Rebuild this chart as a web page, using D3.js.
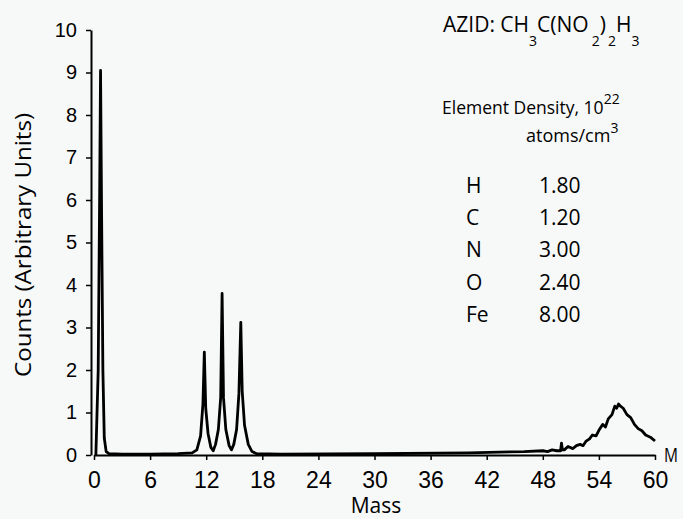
<!DOCTYPE html>
<html>
<head>
<meta charset="utf-8">
<script src="https://cdn.jsdelivr.net/npm/d3@7"></script>
<style>
  body { margin: 0; background: #f7f8f8; }
  svg { display: block; font-family: "Open Sans", "DejaVu Sans", sans-serif; }
</style>
</head>
<body>
<div id="chart"></div>
<script>
// spectrum (mass, counts)
const mass = [0.2, 0.45, 0.6, 0.7, 0.8, 0.95, 1.1, 1.3, 1.6, 3, 6, 9, 10.5,
  11.0, 11.4, 11.65, 11.8, 11.95, 12.2, 12.5, 12.75,
  13.0, 13.3, 13.55, 13.7, 13.85, 14.1, 14.45, 14.7,
  14.95, 15.25, 15.5, 15.7, 15.85, 16.1, 16.5, 16.9, 17.4,
  20, 30, 40, 46, 48, 48.5, 49, 49.5, 49.9, 50, 50.1, 50.3, 50.7, 51.2, 51.6, 52, 52.3, 52.6,
  53, 53.3, 53.7, 54, 54.4, 54.7, 55, 55.4, 55.7, 55.9, 56.1, 56.3, 56.6, 57, 57.4, 57.8,
  58.2, 58.6, 59, 59.5, 60];
const counts = [0.0, 2.0, 6.0, 9.05, 6.0, 2.0, 0.4, 0.08, 0.03, 0.02, 0.02, 0.03, 0.05,
  0.12, 0.45, 1.2, 2.42, 1.1, 0.5, 0.18, 0.1,
  0.25, 0.6, 1.35, 3.8, 1.35, 0.6, 0.22, 0.12,
  0.25, 0.6, 1.45, 3.12, 1.5, 0.7, 0.25, 0.08, 0.03,
  0.02, 0.03, 0.05, 0.08, 0.1, 0.08, 0.12, 0.1, 0.1, 0.28, 0.12, 0.12, 0.2, 0.15, 0.22, 0.25, 0.22, 0.32,
  0.38, 0.47, 0.45, 0.58, 0.72, 0.66, 0.85, 0.95, 1.15, 1.1, 1.2, 1.15, 1.1, 0.95, 0.88, 0.72,
  0.62, 0.57, 0.47, 0.42, 0.33];

const xTicks = [0, 6, 12, 18, 24, 30, 36, 42, 48, 54, 60];
const yTicks = [0, 1, 2, 3, 4, 5, 6, 7, 8, 9, 10];

const elements = ["H", "C", "N", "O", "Fe"];
const densities = ["1.80", "1.20", "3.00", "2.40", "8.00"];

const width = 683, height = 519;

const svg = d3.select("#chart").append("svg")
  .attr("width", width)
  .attr("height", height);

const x = d3.scaleLinear().domain([0, 60]).range([94, 655]);
const y = d3.scaleLinear().domain([0, 10]).range([455, 30]);

// axes
const xAxis = svg.append("g")
  .attr("transform", `translate(0,${y(0)})`)
  .call(d3.axisBottom(x).tickValues(xTicks).tickSize(5).tickSizeOuter(0).tickPadding(12));
xAxis.select(".domain").attr("stroke", "#000").attr("stroke-width", 2);
xAxis.selectAll(".tick line").attr("stroke-width", 1.5);
xAxis.selectAll("text")
  .attr("font-size", 23)
  .attr("fill", "#000");

const yAxis = svg.append("g")
  .attr("transform", `translate(${x(0) - 3},0)`)
  .call(d3.axisLeft(y).tickValues(yTicks).tickSize(5).tickSizeOuter(0).tickPadding(9));
yAxis.select(".domain").attr("stroke", "#000").attr("stroke-width", 2);
yAxis.selectAll(".tick line").attr("stroke-width", 1.5);
yAxis.selectAll("text")
  .attr("font-size", 20)
  .attr("fill", "#000");

// axis titles
svg.append("text")
  .attr("x", 376).attr("y", 513)
  .attr("text-anchor", "middle")
  .attr("font-size", 21)
  .text("Mass");

svg.append("text")
  .attr("x", 664).attr("y", 462)
  .attr("font-size", 20)
  .attr("textLength", 14)
  .attr("lengthAdjust", "spacingAndGlyphs")
  .text("M");

svg.append("text")
  .attr("transform", "translate(31,245) rotate(-90)")
  .attr("text-anchor", "middle")
  .attr("font-size", 22)
  .attr("textLength", 264)
  .attr("lengthAdjust", "spacingAndGlyphs")
  .text("Counts (Arbitrary Units)");

// spectrum
const line = d3.line()
  .x(i => x(mass[i]))
  .y(i => y(counts[i]));

svg.append("path")
  .datum(d3.range(mass.length))
  .attr("fill", "none")
  .attr("stroke", "#000")
  .attr("stroke-width", 2.8)
  .attr("stroke-linejoin", "round")
  .attr("d", line);

// formula
const f = svg.append("text")
  .attr("x", 443).attr("y", 32)
  .attr("font-size", 21);
f.append("tspan").text("AZID: CH");
f.append("tspan").attr("font-size", 14).attr("dy", 14).text("3");
f.append("tspan").attr("dy", -14).text("C(NO");
f.append("tspan").attr("font-size", 14).attr("dy", 14).attr("dx", 3).text("2");
f.append("tspan").attr("dy", -14).text(")");
f.append("tspan").attr("font-size", 14).attr("dy", 14).attr("dx", 2).text("2");
f.append("tspan").attr("dy", -14).text("H");
f.append("tspan").attr("font-size", 14).attr("dy", 14).text("3");

const d = svg.append("text")
  .attr("x", 442).attr("y", 114)
  .attr("font-size", 17.5);
d.append("tspan").text("Element  Density, 10");
d.append("tspan").attr("font-size", 14).attr("dy", -10).text("22");

const a = svg.append("text")
  .attr("x", 526).attr("y", 142)
  .attr("font-size", 18);
a.append("tspan").text("atoms/cm");
a.append("tspan").attr("font-size", 14).attr("dy", -9).text("3");

// element table
const rows = svg.append("g")
  .selectAll("g")
  .data(elements)
  .join("g")
  .attr("transform", (e, i) => `translate(0,${193 + i * 32.2})`);
rows.append("text")
  .attr("x", 466)
  .attr("font-size", 21)
  .text(e => e);
rows.append("text")
  .attr("x", 539)
  .attr("font-size", 21)
  .text((e, i) => densities[i]);
</script>
</body>
</html>
